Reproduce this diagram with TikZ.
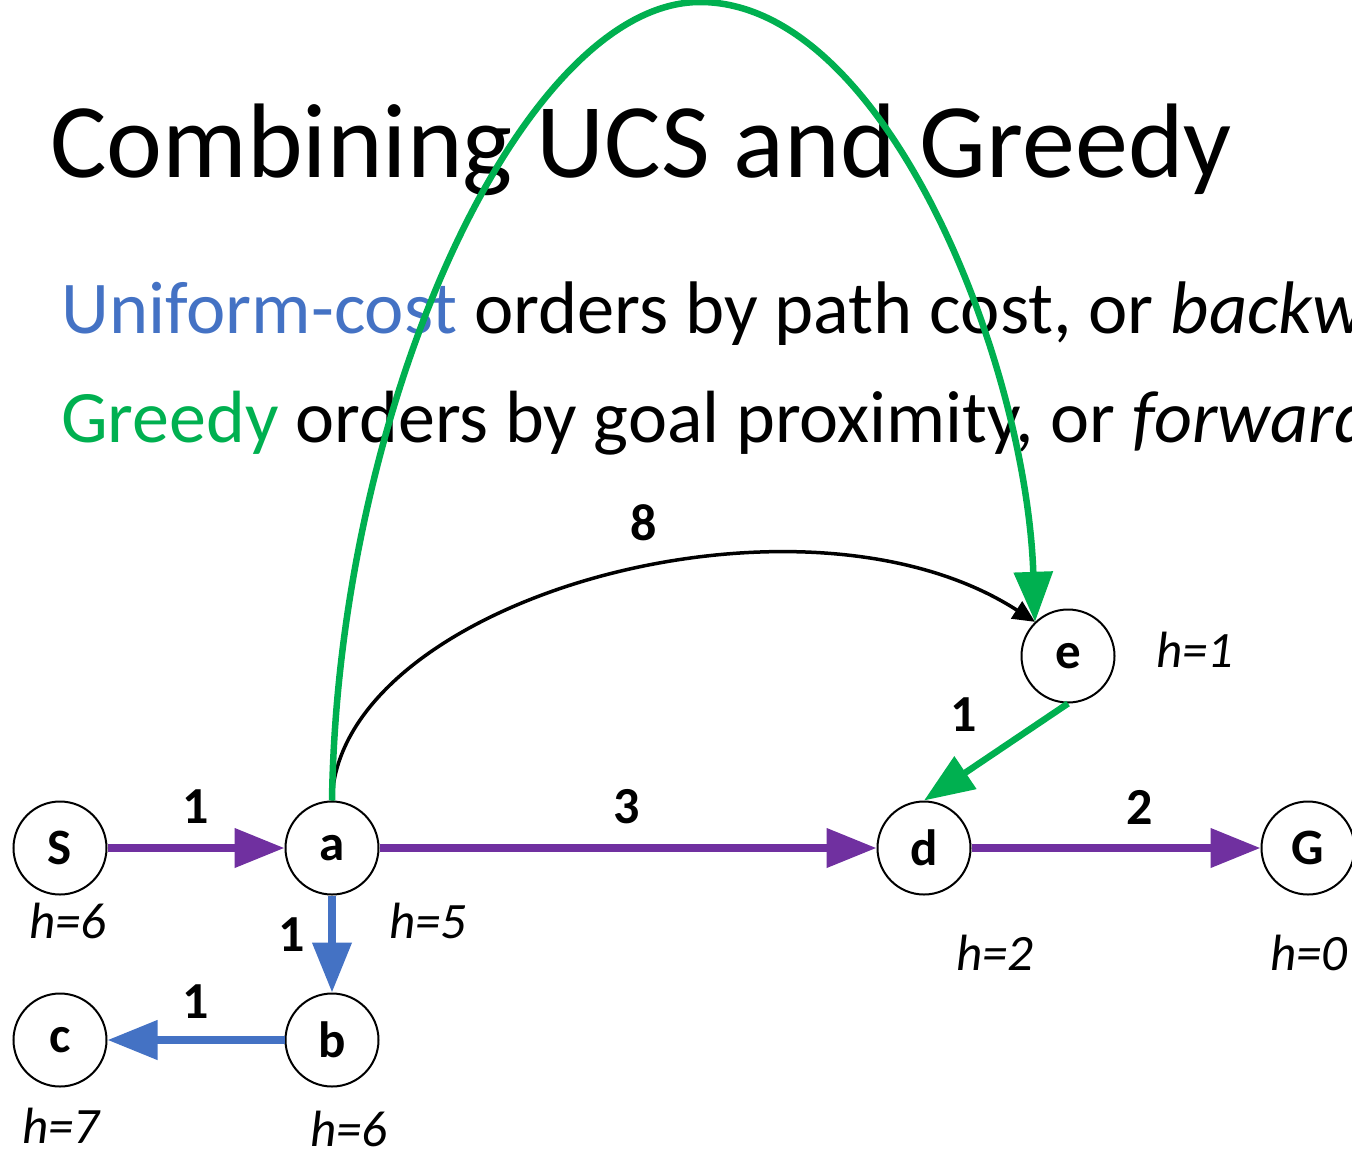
\documentclass[tikz,border=0pt]{standalone}
\usepackage{fontspec}
\setmainfont{Carlito}
\usetikzlibrary{arrows.meta}
\definecolor{ucsblue}{HTML}{4472C4}
\definecolor{greedygreen}{HTML}{00B050}
\definecolor{pathpurple}{HTML}{7030A0}

\begin{document}
\begin{tikzpicture}[x=1pt,y=-1pt,
  state/.style={circle,draw,fill=white,line width=2pt,minimum size=93pt,inner sep=0pt,
    font=\fontsize{51}{60}\selectfont\bfseries},
  cost/.style={inner sep=0pt,font=\fontsize{52}{62}\selectfont\bfseries},
  heur/.style={inner sep=0pt,font=\fontsize{51}{60}\selectfont\itshape},
  bigtip/.style={-{Triangle[length=50pt,width=38pt]}},
  purpleedge/.style={bigtip,draw=pathpurple,line width=7.5pt},
  blueedge/.style={bigtip,draw=ucsblue,line width=7.5pt},
  greenedge/.style={bigtip,draw=greedygreen,line width=6.5pt},
  blackedge/.style={-{Triangle[length=22pt,width=20pt]},draw=black,line width=3.5pt}]

\useasboundingbox (0,0) rectangle (1352,1152);
\clip (0,0) rectangle (1352,1152);

% heading and the two explanatory lines
\node[anchor=base west,inner sep=0pt,font=\fontsize{106}{120}\selectfont] (title) at (50,177)
  {Combining UCS and Greedy};
\node[anchor=base west,inner sep=0pt,font=\fontsize{74.5}{86}\selectfont] (ucsline) at (61,333)
  {\textcolor{ucsblue}{Uniform-cost} orders by path cost, or \textit{backward cost}};
\node[anchor=base west,inner sep=0pt,font=\fontsize{74}{86}\selectfont] (greedyline) at (61,442)
  {\textcolor{greedygreen}{Greedy} orders by goal proximity, or \textit{forward cost}};

% search graph states
\node[state] (S) at (60,848) {S};
\node[state] (a) at (332,848) {a};
\node[state] (d) at (924,848) {d};
\node[state] (G) at (1308,848) {G};
\node[state] (e) at (1068,656) {e};
\node[state] (b) at (332,1040) {b};
\node[state] (c) at (60,1040) {c};

% heuristic values
\node[heur] (hS) at (68,921) {h=6};
\node[heur] (ha) at (428,921) {h=5};
\node[heur] (hb) at (349,1129) {h=6};
\node[heur] (hc) at (61,1126) {h=7};
\node[heur] (hd) at (995,953) {h=2};
\node[heur] (hG) at (1309,953) {h=0};
\node[heur] (he) at (1195,650) {h=1};

% edge costs
\node[cost] (cSa) at (196,807) {1};
\node[cost] (cad) at (627,807) {3};
\node[cost] (cdG) at (1140,807) {2};
\node[cost] (cab) at (292,935) {1};
\node[cost] (cbc) at (196,1002) {1};
\node[cost] (ced) at (964,715) {1};
\node[cost] (cae) at (644,523) {8};

% edges
\draw[purpleedge] (S.east) -- (a.west);
\draw[purpleedge] (a.east) -- (d.west);
\draw[purpleedge] (d.east) -- (G.west);
\draw[blueedge] (a.south) -- (b.north);
\draw[blueedge] (b.west) -- (c.east);
\draw[blackedge] (a.north) .. controls (338,600) and (800,470) .. (e.134);
\draw[greenedge] (e.south) -- (d.north);
\draw[greenedge] (a.north) .. controls (338,400) and (525,2) .. (700,2)
  .. controls (885,2) and (1026,360) .. (e.134);
\end{tikzpicture}
\end{document}
